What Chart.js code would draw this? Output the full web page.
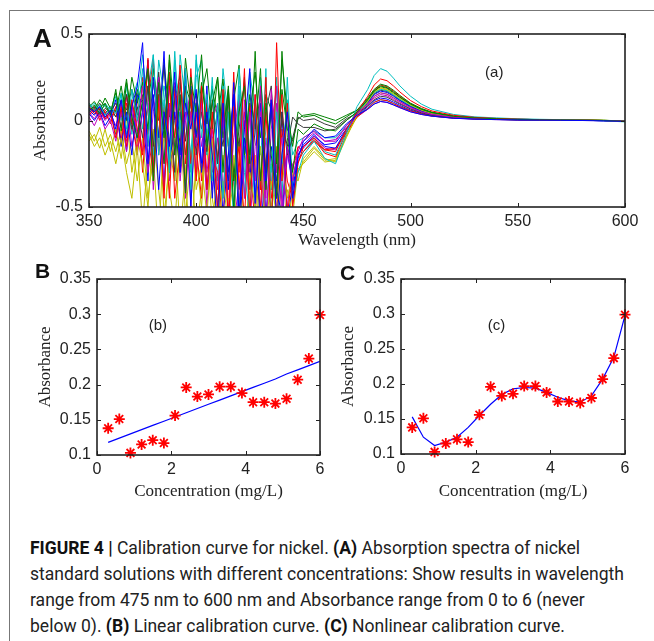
<!DOCTYPE html>
<html><head><meta charset="utf-8">
<script src="https://cdn.jsdelivr.net/npm/chart.js@4.4.1/dist/chart.umd.min.js"></script>
<style>
html,body{margin:0;padding:0;background:#fff;width:654px;height:641px;overflow:hidden;position:relative}
canvas{position:absolute}
#cA{left:0;top:0}
#cB{left:0;top:250px}
#cC{left:325px;top:250px}
.frameTop{position:absolute;left:9px;top:10px;width:645px;height:0;border-top:1.5px solid #777}
.frameLeft{position:absolute;left:9px;top:10px;width:0;height:631px;border-left:1.5px solid #777}
.plab{position:absolute;font-family:"Liberation Sans",Arial,sans-serif;font-weight:bold;color:#111;line-height:1}
#cap{position:absolute;left:30px;top:535px;font-family:Roboto,"Liberation Sans",Arial,sans-serif;font-size:17.5px;line-height:26px;color:#222;transform-origin:0 0;white-space:nowrap}
#cap div{white-space:nowrap}
#cap b{font-weight:bold;color:#111}
</style>
</head><body>
<div class="frameTop"></div><div class="frameLeft"></div>
<canvas id="cA" width="654" height="251"></canvas>
<canvas id="cB" width="335" height="252"></canvas>
<canvas id="cC" width="329" height="252"></canvas>
<div class="plab" style="left:33px;top:25px;font-size:26px">A</div>
<div class="plab" style="left:35px;top:260px;font-size:21px">B</div>
<div class="plab" style="left:340px;top:262px;font-size:21px">C</div>
<div id="cap">
<div id="l1"><b>FIGURE 4 |</b> Calibration curve for nickel. <b>(A)</b> Absorption spectra of nickel</div>
<div id="l2">standard solutions with different concentrations: Show results in wavelength</div>
<div id="l3">range from 475 nm to 600 nm and Absorbance range from 0 to 6 (never</div>
<div id="l4">below 0). <b>(B)</b> Linear calibration curve. <b>(C)</b> Nonlinear calibration curve.</div>
</div>
<script>
// ---------- Panel A: absorption spectra ----------
const wavelengths = [350,352.5,355,357.5,360,362.5,365,367.5,370,372.5,375,377.5,380,382.5,385,387.5,390,392.5,395,397.5,400,402.5,405,407.5,410,412.5,415,417.5,420,422.5,425,427.5,430,432.5,435,437.5,440,442.5,445,447.5,450,455,460,465,470,475,480,483,486,489,492,495,500,505,510,520,530,540,550,560,570,580,590,600];
const xTicksA = [350,400,450,500,550,600];
const yTicksA = [-0.5,0,0.5];

const s01 = [.07,.05,.08,.02,.06,-.05,.12,-.10,.08,.20,.45,-.25,.15,-.40,.05,-.15,.28,-.30,.10,-.05,.18,-.30,.05,-.20,-.65,.10,-.40,.22,-.55,-.05,.30,-.48,.02,-.35,.12,-.60,-.20,.05,-.45,-.22,-.12,-.05,-.10,-.09,-.02,.03,.065,.095,.11,.105,.09,.075,.05,.035,.025,.013,.008,.005,.003,.002,.001,0,-.002,-.005];
const s02 = [.05,.09,.04,.10,.03,.18,-.06,.22,.02,-.10,.12,.30,-.35,.22,-.10,.35,-.20,.15,-.42,.25,.05,.38,-.15,.10,.25,-.30,.15,-.52,.05,.20,-.25,.40,-.35,.10,-.20,-.45,.40,-.10,-.30,-.05,-.08,-.02,-.05,-.06,0,.05,.12,.17,.20,.19,.165,.135,.095,.065,.045,.024,.015,.01,.006,.004,.003,.002,0,-.004];
const s03 = [.08,.04,.07,.01,.05,-.10,.08,-.15,.12,-.05,-.20,.36,-.30,.10,-.45,.20,-.10,.32,-.25,.15,-.35,.20,-.40,.05,-.55,.18,-.62,.08,-.30,.30,-.58,.15,-.40,.25,-.70,.45,-.35,.10,-.50,-.25,-.15,-.10,-.17,-.18,-.05,.05,.14,.205,.24,.23,.20,.165,.115,.08,.055,.03,.018,.012,.008,.005,.003,.002,0,-.005];
const s04 = [.10,.06,.09,.03,.08,.04,.15,-.08,.18,0,.30,-.15,.38,-.20,.12,-.30,.35,-.05,.30,-.40,.38,-.10,.15,-.35,.10,-.45,.05,-.60,.20,-.30,-.55,.10,-.40,.30,-.65,.05,-.25,.12,-.48,-.30,-.20,-.12,-.22,-.25,-.08,.08,.18,.26,.30,.285,.245,.20,.14,.095,.065,.035,.021,.015,.01,.007,.005,.002,-.002,-.008];
const s05 = [.02,-.03,.04,-.05,0,-.12,.05,-.18,.10,-.08,.20,-.30,.05,.25,-.40,.10,-.20,.15,-.45,.05,-.15,.10,-.30,-.05,-.40,.05,-.55,-.10,.15,-.45,.05,-.35,.20,-.62,-.05,.20,-.50,-.15,-.35,-.18,-.10,-.06,-.12,-.12,-.03,.04,.095,.14,.16,.152,.13,.108,.075,.05,.035,.019,.012,.008,.005,.003,.002,.001,-.001,-.004];
const s06 = [-.08,-.15,-.10,-.20,-.12,-.25,-.10,-.30,-.45,-.15,-.60,-.20,-.35,.10,-.55,-.25,-.10,-.65,-.30,.05,-.40,-.25,-.55,-.10,-.70,-.35,-.60,-.20,-.45,-.75,-.30,-.50,-.15,-.60,-.35,-.55,-.25,-.45,-.30,-.35,-.22,-.15,-.22,-.24,-.10,.03,.11,.165,.19,.18,.155,.13,.09,.06,.04,.022,.014,.009,.006,.004,.003,.002,.001,-.003];
const s07 = [.06,.08,.03,.07,.05,.10,.02,.15,-.05,.08,-.10,.20,-.15,.28,-.05,.10,-.30,.22,-.12,.18,-.20,.05,-.18,.12,-.25,.15,-.35,.05,-.15,.25,-.40,-.05,.15,-.30,.10,-.45,.05,-.20,-.10,.02,0,.01,-.02,-.04,.01,.04,.085,.12,.14,.135,.115,.095,.066,.045,.03,.016,.01,.007,.004,.003,.002,.001,0,-.003];
const s08 = [.04,0,.05,-.03,.02,.12,-.15,.05,-.20,.15,.10,-.35,.25,-.10,.40,-.30,.05,-.20,.30,-.50,.10,-.25,.20,-.45,.05,-.55,-.20,.15,-.60,-.10,-.35,.05,-.65,-.25,.10,-.40,-.55,-.15,-.40,-.20,-.14,-.08,-.15,-.16,-.05,.04,.10,.15,.17,.162,.14,.115,.08,.055,.038,.02,.013,.008,.005,.004,.002,.001,-.001,-.004];
const s09 = [.08,.11,.06,.13,.07,.05,.20,0,.25,.10,.22,-.05,.30,.05,-.25,.38,0,-.30,.20,.10,-.15,.15,.30,-.05,.25,-.10,.20,-.35,.10,-.20,.15,-.05,.30,-.40,.08,-.25,.35,.05,-.15,.05,.02,.03,0,-.02,.02,.06,.13,.18,.21,.20,.175,.145,.10,.07,.048,.026,.016,.011,.007,.005,.003,.002,.001,-.003];
const s10 = [.03,.07,.02,.05,-.02,.08,-.12,.15,-.02,-.18,.25,-.10,-.30,.15,-.05,.28,-.45,-.15,.20,-.25,.05,-.35,.10,-.20,-.30,-.60,.05,-.35,-.15,-.58,.10,-.30,-.50,.05,-.45,-.20,.15,-.55,-.28,-.15,-.18,-.12,-.17,-.16,-.07,.02,.07,.105,.12,.115,.098,.08,.056,.038,.026,.014,.009,.006,.004,.003,.002,.001,0,-.003];
const s11 = [.07,.10,.05,.09,.04,.14,0,.20,-.08,.12,.38,.05,-.20,.35,.15,-.25,.40,-.10,.25,-.30,.35,.05,-.20,.25,-.35,.20,-.15,-.50,.30,-.20,.10,-.55,.25,-.10,-.30,.20,-.45,.25,-.40,-.22,-.18,-.10,-.18,-.20,-.06,.05,.11,.16,.18,.172,.148,.122,.085,.058,.04,.022,.014,.009,.006,.004,.003,.002,0,-.004];
const s12 = [.05,.01,.06,0,.04,-.03,.10,-.12,.06,-.20,.05,.20,-.40,.15,-.25,.05,.22,-.35,0,.18,-.30,.12,-.50,0,.10,-.40,-.20,.08,-.50,.12,-.62,-.15,.05,-.45,.18,-.30,-.10,-.50,-.25,-.20,-.16,-.09,-.16,-.17,-.06,.03,.09,.13,.15,.143,.122,.10,.07,.048,.034,.018,.011,.007,.005,.003,.002,.001,-.001,-.004];
const s13 = [-.12,-.08,-.16,-.05,-.18,-.05,-.22,.02,-.30,-.10,-.25,-.50,-.05,-.40,-.70,-.15,-.35,0,-.55,-.20,-.65,-.40,-.15,-.60,-.30,-.80,-.45,-.55,-.10,-.65,-.40,-.20,-.75,-.35,-.50,-.15,-.70,-.40,-.55,-.28,-.25,-.18,-.24,-.23,-.09,.03,.11,.16,.185,.176,.152,.125,.088,.06,.042,.023,.014,.009,.006,.004,.003,.002,.001,-.003];
const s14 = [.09,.05,.10,.04,.08,.02,.12,.06,.18,.03,.15,-.08,.22,0,.32,-.15,.12,.26,-.20,.05,.15,-.05,.10,-.12,.05,-.15,.18,-.30,-.05,.22,-.20,.10,-.35,.05,.20,-.25,0,-.15,.02,-.02,-.04,-.04,-.06,-.05,0,.05,.105,.155,.175,.168,.145,.118,.082,.056,.04,.021,.013,.008,.006,.004,.003,.002,0,-.003];
const s15 = [.06,.03,.08,.01,.05,-.08,.06,-.18,.10,-.12,.05,.35,-.20,.12,-.38,.25,-.15,.05,-.42,.20,-.10,.15,-.40,-.10,-.50,0,-.30,.15,-.65,-.20,.05,-.45,.10,-.55,-.15,-.35,.05,-.60,-.35,-.20,-.15,-.09,-.14,-.13,-.05,.03,.08,.115,.13,.124,.106,.087,.06,.041,.029,.015,.009,.006,.004,.003,.002,.001,-.001,-.004];
const s16 = [.10,.06,.12,.08,.05,.16,.04,.24,-.02,.18,.05,.28,.12,-.10,.34,.02,.20,-.15,.36,.08,-.08,.22,-.02,.18,.02,.24,-.15,.12,.32,-.20,.05,.28,-.10,.15,.06,-.30,.18,-.05,-.12,.01,.03,.04,.02,0,.03,.06,.12,.17,.195,.186,.16,.133,.093,.064,.045,.024,.015,.01,.007,.005,.003,.002,.001,-.002];
const s17 = [.04,.08,0,.06,.02,.06,-.14,.10,-.06,.16,-.30,.12,.35,-.20,.08,-.45,.18,.05,-.35,.30,-.15,-.45,.12,-.30,-.20,.15,-.55,.28,-.40,.05,-.25,-.60,.20,-.30,.12,-.55,-.05,-.35,-.45,-.24,-.18,-.11,-.19,-.21,-.07,.04,.12,.175,.205,.195,.17,.14,.098,.066,.046,.025,.016,.01,.007,.005,.003,.002,0,-.004];
const s18 = [.08,.04,.07,.10,.06,.02,.16,-.05,.12,.22,-.05,.18,.38,-.15,.20,.05,-.35,.38,.10,-.20,.25,.35,-.10,.20,-.25,.30,0,-.35,.15,-.45,.28,.05,-.20,.15,-.40,.25,-.30,.10,-.20,-.12,-.10,-.06,-.10,-.10,-.03,.03,.07,.105,.12,.114,.097,.08,.056,.038,.027,.014,.009,.006,.004,.003,.002,.001,0,-.004];
const s19 = [.03,.06,.01,.04,0,.08,-.04,.14,-.15,.02,-.18,.10,-.28,.25,-.05,-.35,.15,-.25,.05,-.50,.12,-.15,.08,-.40,-.10,-.45,.12,-.35,-.60,0,-.30,.15,-.55,-.10,-.40,.10,-.62,-.20,-.35,-.16,-.12,-.07,-.12,-.11,-.04,.02,.065,.095,.11,.104,.09,.073,.05,.035,.025,.013,.008,.005,.003,.002,.001,0,-.001,-.004];
const s20 = [-.06,-.12,-.04,-.15,-.08,-.18,-.05,-.25,-.12,-.35,-.10,-.45,-.20,-.70,-.05,-.40,-.60,-.15,-.35,-.75,-.20,-.50,-.05,-.45,-.65,-.20,-.55,-.35,-.80,-.15,-.50,-.70,-.30,-.60,-.25,-.55,-.40,-.75,-.35,-.30,-.24,-.16,-.23,-.22,-.09,.02,.09,.14,.16,.153,.132,.108,.076,.052,.036,.02,.012,.008,.005,.003,.002,.001,0,-.003];
const spectra = [s01,s02,s03,s04,s05,s06,s07,s08,s09,s10,s11,s12,s13,s14,s15,s16,s17,s18,s19,s20];

// ---------- Panels B and C: calibration ----------
const concentration = [0.3,0.6,0.9,1.2,1.5,1.8,2.1,2.4,2.7,3.0,3.3,3.6,3.9,4.2,4.5,4.8,5.1,5.4,5.7,6.0];
const measured = [0.138,0.151,0.103,0.115,0.121,0.117,0.156,0.196,0.183,0.186,0.197,0.197,0.188,0.175,0.175,0.173,0.180,0.207,0.237,0.299];
const linearFit = [0.118,0.124,0.130,0.136,0.142,0.148,0.154,0.160,0.166,0.172,0.178,0.184,0.190,0.196,0.202,0.208,0.215,0.221,0.227,0.233];
const nonlinearFit = [0.153,0.124,0.112,0.117,0.124,0.138,0.155,0.171,0.185,0.193,0.195,0.194,0.188,0.181,0.176,0.174,0.183,0.207,0.238,0.298];
const xTicksBC = [0,2,4,6];
const yTicksBC = [0.1,0.15,0.2,0.25,0.3,0.35];

const colorCycle = ['#0000ff','#008000','#ff0000','#00bfbf','#bf00bf','#bfbf00','#3a3a3a'];
const tickFont = {family:'"Liberation Sans", Arial, sans-serif', size:16};
const titleFont = {family:'"Liberation Serif", "Times New Roman", serif', size:17};
const fmt = v => String(+(+v).toFixed(4));

const framePlugin = {
  id:'frame',
  afterDatasetsDraw(chart, args, opts){
    const {ctx, chartArea:a, scales:{x, y}} = chart;
    ctx.save();
    ctx.strokeStyle = '#222';
    ctx.lineWidth = 1;
    const tl = 4;
    ctx.beginPath();
    x.ticks.forEach(t => { const p = Math.round(x.getPixelForValue(t.value))+0.5;
      ctx.moveTo(p, a.bottom); ctx.lineTo(p, a.bottom - tl); ctx.moveTo(p, a.top); ctx.lineTo(p, a.top + tl); });
    y.ticks.forEach(t => { const p = Math.round(y.getPixelForValue(t.value))+0.5;
      ctx.moveTo(a.left, p); ctx.lineTo(a.left + tl, p); ctx.moveTo(a.right, p); ctx.lineTo(a.right - tl, p); });
    ctx.stroke();
    ctx.lineWidth = 1.6;
    ctx.strokeRect(a.left, a.top, a.right - a.left, a.bottom - a.top);
    if (opts.label) {
      ctx.fillStyle = '#222';
      ctx.font = '15px "Liberation Sans", Arial, sans-serif';
      ctx.textAlign = 'center'; ctx.textBaseline = 'middle';
      ctx.fillText(opts.label.text, x.getPixelForValue(opts.label.x), y.getPixelForValue(opts.label.y));
    }
    ctx.restore();
  }
};

function axes(xTicks, yTicks, xMin, xMax, yMin, yMax, xH, yW, yTitlePad, xTitle) {
  return {
    x:{type:'linear', min:xMin, max:xMax,
       afterBuildTicks: s => { s.ticks = xTicks.map(v => ({value:v})); },
       afterFit: s => { s.height = xH; },
       grid:{display:false, drawTicks:false}, border:{display:false},
       ticks:{font:tickFont, color:'#222', padding:5, maxRotation:0, autoSkip:false, callback:fmt},
       title:{display:true, text:xTitle, font:titleFont, color:'#222', padding:{top:0, bottom:0}}},
    y:{type:'linear', min:yMin, max:yMax,
       afterBuildTicks: s => { s.ticks = yTicks.map(v => ({value:v})); },
       afterFit: s => { s.width = yW; },
       grid:{display:false, drawTicks:false}, border:{display:false},
       ticks:{font:tickFont, color:'#222', padding:6, autoSkip:false, callback:fmt},
       title:{display:true, text:'Absorbance', font:titleFont, color:'#222', padding:{top:yTitlePad, bottom:0}}}
  };
}

const common = {responsive:false, animation:false, devicePixelRatio:1, events:[]};

new Chart(document.getElementById('cA'), {
  type:'line',
  data:{datasets: spectra.map((s, i) => ({
    data: wavelengths.map((w, j) => ({x:w, y:s[j]})),
    borderColor: colorCycle[i % 7], borderWidth:1, pointRadius:0, tension:0, fill:false}))},
  options:Object.assign({}, common, {
    layout:{padding:{left:0, top:34, right:29, bottom:0}},
    plugins:{legend:{display:false}, tooltip:{enabled:false}, frame:{label:{text:'(a)', x:539, y:0.275}}},
    scales: axes(xTicksA, yTicksA, 350, 600, -0.5, 0.5, 44, 89, 30, 'Wavelength (nm)')
  }),
  plugins:[framePlugin]
});

function calib(id, fit, label, padRight, yW, xH, yTitlePad) {
  new Chart(document.getElementById(id), {
    type:'line',
    data:{datasets:[
      {data: concentration.map((c, i) => ({x:c, y:measured[i]})), showLine:false, pointStyle:'star',
       pointRadius:5.5, borderColor:'#ff0000', backgroundColor:'#ff0000', pointBorderWidth:1.8, clip:false},
      {data: concentration.map((c, i) => ({x:c, y:fit[i]})), borderColor:'#0000ff', borderWidth:1.2,
       pointRadius:0, tension:0, fill:false}
    ]},
    options:Object.assign({}, common, {
      layout:{padding:{left:0, top:29, right:padRight, bottom:0}},
      plugins:{legend:{display:false}, tooltip:{enabled:false}, frame:{label:label}},
      scales: axes(xTicksBC, yTicksBC, 0, 6, 0.1, 0.35, xH, yW, yTitlePad, 'Concentration (mg/L)')
    }),
    plugins:[framePlugin]
  });
}
calib('cB', linearFit, {text:'(b)', x:1.64, y:0.283}, 15, 97, 47, 35);
calib('cC', nonlinearFit, {text:'(c)', x:2.56, y:0.283}, 29, 76, 48, 13);

// fit caption width to the reference line length
(function(){
  const cap = document.getElementById('cap');
  const w = document.getElementById('l2').getBoundingClientRect().width;
  cap.style.transform = 'scaleX(' + (594 / w) + ')';
})();
</script>
</body></html>
